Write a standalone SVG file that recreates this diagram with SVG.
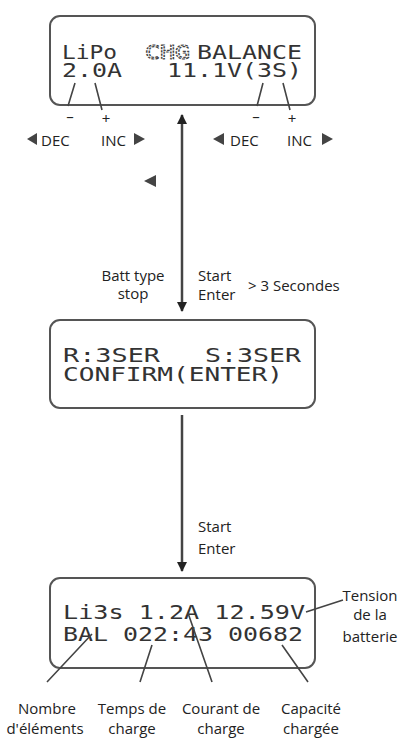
<svg xmlns="http://www.w3.org/2000/svg" width="406" height="742" viewBox="0 0 406 742">
<style>
.box{fill:#fff;stroke:#555;stroke-width:2}
.lcd{font-family:"DejaVu Sans Mono","Liberation Mono",monospace;font-size:20px;fill:#333}
.lbl{font-family:"Open Sans",sans-serif;font-size:15px;fill:#222}
.lead{stroke:#444;stroke-width:1.6;fill:none}
.conn{stroke:#444;stroke-width:2.5;fill:none}
.tri{fill:#444}
</style>
<defs>
<marker id="ah" viewBox="0 0 10 10" refX="9" refY="5" markerWidth="4" markerHeight="4.4" orient="auto-start-reverse" markerUnits="strokeWidth">
<path d="M0,0 L10,5 L0,10 Z" fill="#222"/>
</marker>
</defs>
<rect width="406" height="742" fill="#fff"/>

<g id="screen1">
<rect class="box" x="50" y="16" width="265" height="89" rx="10"/>
<text class="lcd" x="62" y="59" textLength="55" lengthAdjust="spacingAndGlyphs">LiPo</text>
<text class="lcd" x="145" y="59" textLength="45" lengthAdjust="spacingAndGlyphs" style="fill:none;stroke:#444;stroke-width:1.2;stroke-dasharray:2.2 1">CHG</text>
<text class="lcd" x="197" y="59" textLength="105" lengthAdjust="spacingAndGlyphs">BALANCE</text>
<text class="lcd" x="62" y="77" textLength="240" lengthAdjust="spacingAndGlyphs" xml:space="preserve">2.0A   11.1V(3S)</text>
</g>

<g id="keys">
<path class="lead" d="M75,83 L68,106 M95,83 L102,110 M263,83 L257,106 M283,83 L290,110"/>
<text class="lbl" x="70" y="122" text-anchor="middle">–</text>
<text class="lbl" x="106" y="124" text-anchor="middle">+</text>
<text class="lbl" x="256" y="122" text-anchor="middle">–</text>
<text class="lbl" x="292" y="124" text-anchor="middle">+</text>
<path class="tri" d="M27,139 L37,133 L37,145 Z"/>
<text class="lbl" x="41" y="146">DEC</text>
<text class="lbl" x="101" y="146">INC</text>
<path class="tri" d="M145,139 L134,133 L134,145 Z"/>
<path class="tri" d="M213,139 L224,133 L224,145 Z"/>
<text class="lbl" x="230" y="146">DEC</text>
<text class="lbl" x="287" y="146">INC</text>
<path class="tri" d="M333,139 L322,133 L322,145 Z"/>
<path class="tri" d="M144,181 L156,175 L156,187 Z"/>
</g>

<g id="screen2">
<rect class="box" x="50" y="320" width="265" height="88" rx="10"/>
<text class="lcd" x="63" y="362" textLength="97" lengthAdjust="spacingAndGlyphs">R:3SER</text>
<text class="lcd" x="205" y="362" textLength="96" lengthAdjust="spacingAndGlyphs">S:3SER</text>
<text class="lcd" x="63" y="381" textLength="220" lengthAdjust="spacingAndGlyphs">CONFIRM(ENTER)</text>
</g>

<g id="screen3">
<rect class="box" x="50" y="578" width="265" height="90" rx="10"/>
<text class="lcd" x="63" y="619" textLength="242" lengthAdjust="spacingAndGlyphs">Li3s 1.2A 12.59V</text>
<text class="lcd" x="63" y="641" textLength="240" lengthAdjust="spacingAndGlyphs">BAL 022:43 00682</text>
</g>

<g id="connectors">
<line class="conn" x1="182" y1="115" x2="182" y2="311" marker-start="url(#ah)" marker-end="url(#ah)"/>
<line class="conn" x1="182" y1="415" x2="182" y2="571" marker-end="url(#ah)"/>
</g>

<g id="labels">
<text class="lbl" x="133" y="281" text-anchor="middle">Batt type</text>
<text class="lbl" x="133" y="299" text-anchor="middle">stop</text>
<text class="lbl" x="198" y="281">Start</text>
<text class="lbl" x="198" y="300">Enter</text>
<text class="lbl" x="248" y="291">&gt; 3 Secondes</text>
<text class="lbl" x="198" y="532">Start</text>
<text class="lbl" x="198" y="554">Enter</text>
</g>

<g id="annotations">
<path class="lead" d="M306,612 L343,600 M92,634 L47,682 M152,645 L140,682 M188,613 L212,682 M282,645 L308,682"/>
<text class="lbl" x="370" y="601" text-anchor="middle">Tension</text>
<text class="lbl" x="370" y="620" text-anchor="middle">de la</text>
<text class="lbl" x="370" y="642" text-anchor="middle">batterie</text>
<text class="lbl" x="47" y="714" text-anchor="middle">Nombre</text>
<text class="lbl" x="45" y="734" text-anchor="middle">d'éléments</text>
<text class="lbl" x="132" y="714" text-anchor="middle">Temps de</text>
<text class="lbl" x="132" y="734" text-anchor="middle">charge</text>
<text class="lbl" x="221" y="714" text-anchor="middle">Courant de</text>
<text class="lbl" x="221" y="734" text-anchor="middle">charge</text>
<text class="lbl" x="311" y="714" text-anchor="middle">Capacité</text>
<text class="lbl" x="311" y="734" text-anchor="middle">chargée</text>
</g>
</svg>
